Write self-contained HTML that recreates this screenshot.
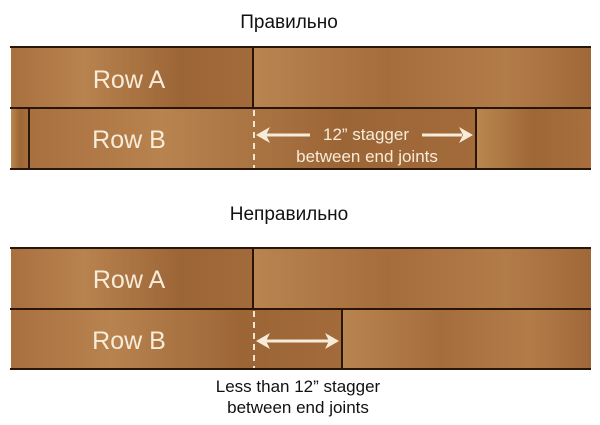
<!DOCTYPE html>
<html><head><meta charset="utf-8"><style>
html,body{margin:0;padding:0;background:#fff;}
svg{display:block}
</style></head><body>
<svg width="600" height="425" viewBox="0 0 600 425" xmlns="http://www.w3.org/2000/svg">
<defs>
<linearGradient id="g1" x1="0" x2="1" y1="0" y2="0">
<stop offset="0" stop-color="#a8703f"/><stop offset="0.3" stop-color="#b8834f"/><stop offset="0.7" stop-color="#9c6536"/><stop offset="1" stop-color="#a36b3a"/>
</linearGradient>
<linearGradient id="g2" x1="0" x2="1" y1="0" y2="0">
<stop offset="0" stop-color="#b88450"/><stop offset="0.4" stop-color="#a56d3c"/><stop offset="0.75" stop-color="#b27c49"/><stop offset="1" stop-color="#a06838"/>
</linearGradient>
<linearGradient id="g3" x1="0" x2="1" y1="0" y2="0">
<stop offset="0" stop-color="#b9874f"/><stop offset="0.5" stop-color="#9e6736"/><stop offset="1" stop-color="#a86f3d"/>
</linearGradient>
</defs>
<g font-family="Liberation Sans, DejaVu Sans, sans-serif">
<text x="289" y="28" font-size="19" text-anchor="middle" fill="#111">Правильно</text>
<text x="289" y="220" font-size="19" text-anchor="middle" fill="#111">Неправильно</text>

<!-- top panel -->
<rect x="11" y="46" width="242" height="62" fill="url(#g1)"/>
<rect x="253" y="46" width="338" height="62" fill="url(#g2)"/>
<rect x="11" y="108" width="18" height="61" fill="url(#g3)"/>
<rect x="29" y="108" width="447" height="61" fill="url(#g1)"/>
<rect x="476" y="108" width="115" height="61" fill="url(#g3)"/>
<g stroke="#2a1608" stroke-width="2">
<line x1="10" y1="47" x2="591" y2="47"/>
<line x1="10" y1="108" x2="591" y2="108"/>
<line x1="10" y1="169" x2="591" y2="169"/>
<line x1="253" y1="46" x2="253" y2="108"/>
<line x1="29" y1="108" x2="29" y2="169"/>
<line x1="476" y1="108" x2="476" y2="169"/>
</g>
<line x1="254" y1="110" x2="254" y2="168" stroke="#f3e6d0" stroke-width="2" stroke-dasharray="6,5"/>
<text x="129" y="88" font-size="25" fill="#f7ecda" text-anchor="middle">Row A</text>
<text x="129" y="148" font-size="25" fill="#f7ecda" text-anchor="middle">Row B</text>
<g stroke="#f7ecda" stroke-width="3" fill="#f7ecda">
<line x1="264" y1="135" x2="310" y2="135"/>
<line x1="422" y1="135" x2="462" y2="135"/>
</g>
<polygon points="256,135 270,127 266,135 270,143" fill="#f7ecda"/>
<polygon points="473,135 459,127 463,135 459,143" fill="#f7ecda"/>
<text x="366" y="140" font-size="17" fill="#f7ecda" text-anchor="middle">12” stagger</text>
<text x="367" y="162" font-size="17" fill="#f7ecda" text-anchor="middle">between end joints</text>

<!-- bottom panel -->
<rect x="11" y="247" width="242" height="61" fill="url(#g1)"/>
<rect x="253" y="247" width="338" height="61" fill="url(#g2)"/>
<rect x="11" y="308" width="331" height="61" fill="url(#g1)"/>
<rect x="342" y="308" width="249" height="61" fill="url(#g2)"/>
<g stroke="#2a1608" stroke-width="2">
<line x1="10" y1="248" x2="591" y2="248"/>
<line x1="10" y1="309" x2="591" y2="309"/>
<line x1="10" y1="369" x2="591" y2="369"/>
<line x1="253" y1="247" x2="253" y2="309"/>
<line x1="342" y1="309" x2="342" y2="369"/>
</g>
<line x1="254" y1="311" x2="254" y2="368" stroke="#f3e6d0" stroke-width="2" stroke-dasharray="6,5"/>
<text x="129" y="288" font-size="25" fill="#f7ecda" text-anchor="middle">Row A</text>
<text x="129" y="349" font-size="25" fill="#f7ecda" text-anchor="middle">Row B</text>
<line x1="264" y1="341" x2="330" y2="341" stroke="#f7ecda" stroke-width="3"/>
<polygon points="256,341 270,333 266,341 270,349" fill="#f7ecda"/>
<polygon points="339,341 325,333 329,341 325,349" fill="#f7ecda"/>
<text x="298" y="392" font-size="17" fill="#111" text-anchor="middle">Less than 12” stagger</text>
<text x="298" y="413" font-size="17" fill="#111" text-anchor="middle">between end joints</text>
</g>
</svg>
</body></html>
